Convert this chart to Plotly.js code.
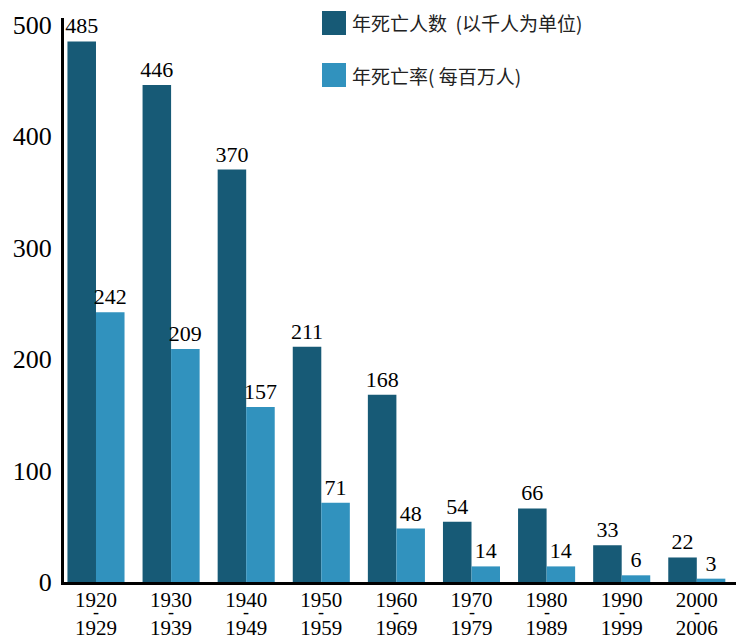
<!DOCTYPE html>
<html>
<head>
<meta charset="utf-8">
<script src="https://cdn.plot.ly/plotly-3.0.1.min.js"></script>
<style>
  html, body { margin: 0; padding: 0; background: #fff; }
  #chart { width: 736px; height: 642px; }
</style>
</head>
<body>
<div id="chart"></div>
<script>
// Decades and their period labels
const decades = ['1920', '1930', '1940', '1950', '1960', '1970', '1980', '1990', '2000'];
const decadeEnds = ['1929', '1939', '1949', '1959', '1969', '1979', '1989', '1999', '2006'];

// Annual deaths (thousands) and annual death rate (per million)
const deathsThousands = [485, 446, 370, 211, 168, 54, 66, 33, 22];
const ratePerMillion = [242, 209, 157, 71, 48, 14, 14, 6, 3];

const seriesNames = ['年死亡人数  (以千人为单位)', '年死亡率( 每百万人)'];
const seriesColors = ['#175a76', '#3192be'];

const serifFont = 'Liberation Serif';
const cjkFont = 'Noto Sans CJK SC';

const tickText = decades.map((d, i) => d + '<br>' + decadeEnds[i]);

const makeBar = (vals, i) => ({
  type: 'bar',
  x: decades,
  y: vals,
  name: seriesNames[i],
  marker: { color: seriesColors[i], line: { width: 0 } },
  text: vals.map(String),
  textposition: 'outside',
  constraintext: 'none',
  textfont: { family: serifFont, size: 22, color: '#000' },
  cliponaxis: false,
  hoverinfo: 'skip'
});

const data = [makeBar(deathsThousands, 0), makeBar(ratePerMillion, 1)];

// Small dashes between the two year lines of each tick label
// (category axis: annotation x is the category index)
const dashNotes = decades.map((d, i) => ({
  x: i, xref: 'x', y: 0, yref: 'paper',
  yshift: -30, yanchor: 'middle', text: '-', showarrow: false,
  font: { family: serifFont, size: 18, color: '#000' }
}));

// Legend drawn as swatches and labels
const legendShapes = seriesColors.map((c, i) => ({
  type: 'rect', xref: 'paper', yref: 'paper',
  x0: (322 - 64) / 672, x1: (346 - 64) / 672,
  y0: (642 - 60 - 35 - i * 52) / 564, y1: (642 - 60 - 11 - i * 52) / 564,
  fillcolor: c, line: { width: 0 }
}));
const legendLabels = seriesNames.map((n, i) => ({
  xref: 'paper', yref: 'paper',
  x: (350 - 64) / 672, y: (642 - 60 - (22 + i * 53)) / 564,
  xanchor: 'left', yanchor: 'middle',
  text: n, showarrow: false,
  font: { family: cjkFont, size: 19, color: '#222' }
}));

const layout = {
  width: 736, height: 642,
  margin: { l: 64, r: 0, t: 18, b: 60 },
  paper_bgcolor: '#fff', plot_bgcolor: '#fff',
  showlegend: false,
  barmode: 'group',
  bargap: 0.24,
  bargroupgap: 0,
  xaxis: {
    type: 'category',
    range: [-0.426, 8.522],
    tickvals: decades, ticktext: tickText,
    ticks: '', showgrid: false, zeroline: false,
    showline: true, linecolor: '#000', linewidth: 3,
    tickfont: { family: serifFont, size: 21, color: '#000' },
    ticklabelstandoff: -3
  },
  yaxis: {
    range: [0, 506],
    tickvals: [0, 100, 200, 300, 400, 500],
    ticks: '', showgrid: false, zeroline: false,
    showline: true, linecolor: '#000', linewidth: 3,
    tickfont: { family: serifFont, size: 26, color: '#000' },
    ticklabelstandoff: 4
  },
  shapes: legendShapes,
  annotations: dashNotes.concat(legendLabels)
};

Plotly.newPlot('chart', data, layout, { displayModeBar: false, staticPlot: true });
</script>
</body>
</html>
